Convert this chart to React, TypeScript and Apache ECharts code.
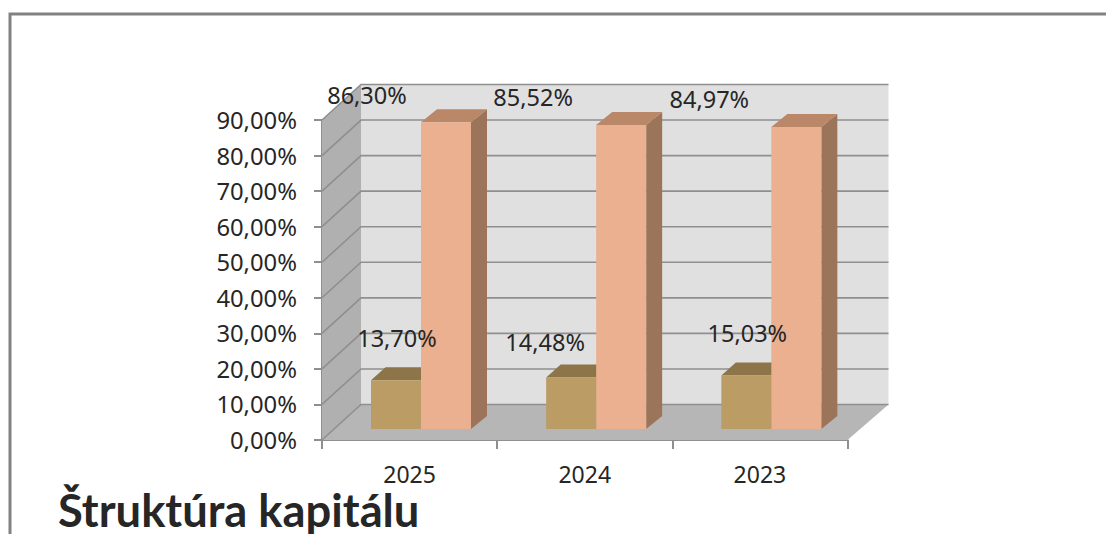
import React, { useEffect, useRef } from "react";
import * as echarts from "echarts";

const categories = ["2025", "2024", "2023"];
const ownCapital = [13.7, 14.48, 15.03];
const foreignCapital = [86.3, 85.52, 84.97];
const gridTicks = [0, 10, 20, 30, 40, 50, 60, 70, 80, 90];
const titleText = "Štruktúra kapitálu";

// Label placement relative to the bar's top-left front corner
const ownLabelOffsets = [[26, -42], [-1, -36], [26, -43]];
const foreignLabelOffsets = [[-54, -27], [-63, -28], [-62, -28]];

const W = 1106;
const H = 534;
const DEPTH_X = 39;
const DEPTH_Y = -35.5;
const WALL_EXTRA = 2;
const BAR_W = 50;
const BAR_GAP_LEFT = 49;
const BAR_FLOOR_UP = 11;
const FONT = "'Noto Sans', sans-serif";
const TEXT = "#262626";
const GRID_LINE = "#8f8f8f";

const fmt = (v: number) => v.toFixed(2).replace(".", ",") + "%";

function poly(points: number[][], fill: string) {
  return { type: "polygon", shape: { points }, style: { fill, stroke: "none" } };
}

function wallsSeries() {
  return {
    type: "custom",
    z: 1,
    silent: true,
    data: [[0, 0]],
    encode: { x: 0, y: 1 },
    renderItem: (params: any) => {
      const { x, y, width, height } = params.coordSys;
      const b = y + height;
      const r = x + width;
      const br = r + DEPTH_X + WALL_EXTRA;
      return {
        type: "group",
        children: [
          poly([[x + DEPTH_X, y + DEPTH_Y], [br, y + DEPTH_Y], [br, b + DEPTH_Y], [x + DEPTH_X, b + DEPTH_Y]], "#e0e0e0"),
          poly([[x, y], [x + DEPTH_X, y + DEPTH_Y], [x + DEPTH_X, b + DEPTH_Y], [x, b]], "#b0b0b0"),
          poly([[x, b], [x + DEPTH_X, b + DEPTH_Y], [br, b + DEPTH_Y], [r, b]], "#b6b6b6"),
        ],
      };
    },
  };
}

function gridSeries() {
  return {
    type: "custom",
    z: 2,
    silent: true,
    data: gridTicks.map((t) => [0, t]),
    encode: { x: 0, y: 1 },
    renderItem: (params: any, api: any) => {
      const { x, width } = params.coordSys;
      const yy = api.coord([0, api.value(1)])[1];
      return {
        type: "polyline",
        shape: {
          points: [
            [x, yy],
            [x + DEPTH_X, yy + DEPTH_Y],
            [x + width + DEPTH_X + WALL_EXTRA, yy + DEPTH_Y],
          ],
        },
        style: { stroke: GRID_LINE, lineWidth: 1.6, fill: "none" },
      };
    },
  };
}

function barSeries(name: string, values: number[], slot: number, dx: number, dy: number, front: string, top: string, side: string) {
  return {
    type: "custom",
    name,
    z: 3 + slot,
    silent: true,
    data: values.map((v, i) => [i, v]),
    encode: { x: 0, y: 1 },
    renderItem: (params: any, api: any) => {
      const i = api.value(0);
      const band = api.size([1, 0])[0];
      const left = api.coord([i, 0])[0] - band / 2 + BAR_GAP_LEFT + slot * BAR_W;
      const right = left + BAR_W;
      const base = api.coord([i, 0])[1] - BAR_FLOOR_UP;
      const t = api.coord([i, api.value(1)])[1] - BAR_FLOOR_UP;
      return {
        type: "group",
        children: [
          poly([[right, t], [right + dx, t + dy], [right + dx, base + dy], [right, base]], side),
          poly([[left, t], [left + dx, t + dy], [right + dx, t + dy], [right, t]], top),
          poly([[left, t], [right, t], [right, base], [left, base]], front),
        ],
      };
    },
  };
}

function labelSeries(values: number[], slot: number, offsets: number[][]) {
  return {
    type: "custom",
    z: 10,
    silent: true,
    data: values.map((v, i) => [i, v]),
    encode: { x: 0, y: 1 },
    renderItem: (params: any, api: any) => {
      const i = api.value(0);
      const v = api.value(1);
      const band = api.size([1, 0])[0];
      const left = api.coord([i, 0])[0] - band / 2 + BAR_GAP_LEFT + slot * BAR_W;
      const t = api.coord([i, v])[1] - BAR_FLOOR_UP;
      return {
        type: "text",
        style: {
          text: fmt(v),
          x: left + offsets[i][0],
          y: t + offsets[i][1],
          fill: TEXT,
          fontSize: 23.5,
          fontFamily: FONT,
          align: "center",
          verticalAlign: "middle",
        },
      };
    },
  };
}

export default function App() {
  const ref = useRef<HTMLDivElement>(null);
  useEffect(() => {
    const chart = echarts.init(ref.current!, undefined, { renderer: "svg" });
    chart.setOption({
      animation: false,
      backgroundColor: "#ffffff",
      title: {
        text: titleText,
        left: 58,
        top: 489,
        padding: 0,
        textStyle: { fontFamily: "Lato, sans-serif", fontWeight: "bold", fontSize: 45.3, lineHeight: 40, color: "#262626" },
      },
      grid: { left: 322, top: 120, width: 525.5, height: 320, containLabel: false },
      xAxis: {
        type: "category",
        data: categories,
        axisLine: { lineStyle: { color: GRID_LINE, width: 2 } },
        axisTick: { show: true, length: 9, lineStyle: { color: GRID_LINE, width: 2 } },
        axisLabel: { color: TEXT, fontSize: 23, fontFamily: FONT, margin: 22 },
        splitLine: { show: false },
      },
      yAxis: {
        type: "value",
        min: 0,
        max: 90,
        interval: 10,
        axisLine: { show: true, lineStyle: { color: GRID_LINE, width: 2 } },
        axisTick: { show: true, length: 8, lineStyle: { color: GRID_LINE, width: 2 } },
        axisLabel: { color: TEXT, fontSize: 23.8, fontFamily: FONT, margin: 25, padding: [4, 0, 0, 0], formatter: (v: number) => fmt(v) },
        splitLine: { show: false },
      },
      graphic: [
        {
          type: "polyline",
          shape: { points: [[10, H], [10, 14], [W, 14]] },
          style: { stroke: "#828282", lineWidth: 3, fill: "none" },
        },
      ],
      series: [
        wallsSeries(),
        gridSeries(),
        barSeries("Vlastné imanie", ownCapital, 0, 14.5, -13, "#ba9c64", "#8d7549", "#8d7549"),
        barSeries("Cudzie zdroje", foreignCapital, 1, 16, -13, "#ebb08f", "#ba8768", "#9b7459"),
        labelSeries(ownCapital, 0, ownLabelOffsets),
        labelSeries(foreignCapital, 1, foreignLabelOffsets),
      ],
    });
    return () => chart.dispose();
  }, []);
  return <div ref={ref} style={{ position: "fixed", left: 0, top: 0, width: W, height: H }} />;
}
